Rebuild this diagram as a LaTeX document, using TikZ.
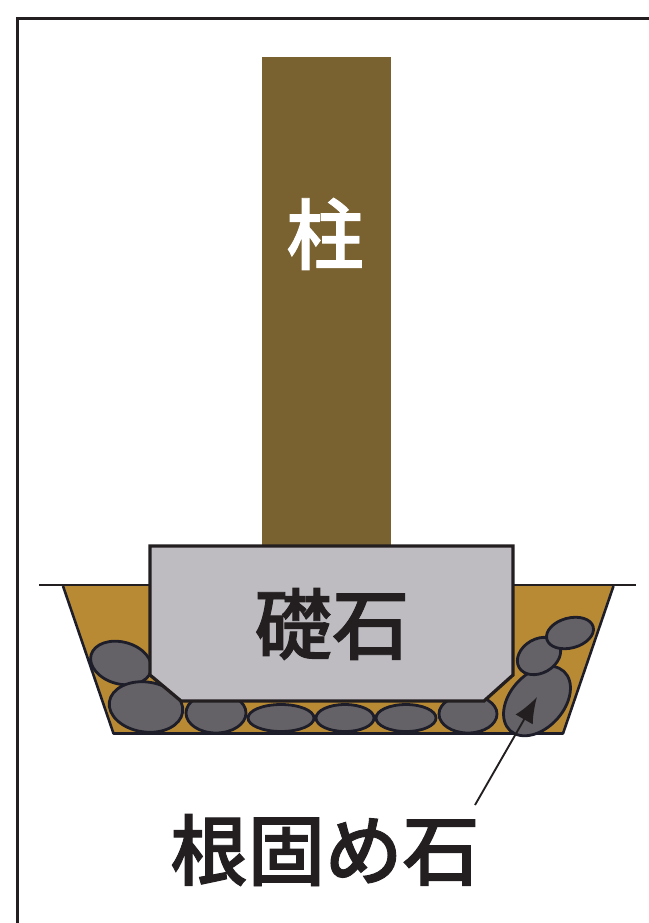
\documentclass[tikz,border=0pt]{standalone}
\usepackage{fontspec}
\usetikzlibrary{arrows.meta}
\newfontfamily\jpfont{Noto Sans CJK JP}[UprightFont=* Medium, FakeBold=1.2]

\definecolor{hashira}{RGB}{122,97,48}
\definecolor{tsuchi}{RGB}{184,138,52}
\definecolor{soseki}{RGB}{190,188,193}
\definecolor{ishi}{RGB}{100,98,103}
\definecolor{ishisen}{RGB}{30,30,42}
\definecolor{sumi}{RGB}{35,31,32}

\begin{document}
\begin{tikzpicture}[x=0.03cm, y=-0.03cm]
\tikzset{ishi/.style={draw=ishisen, fill=ishi, line width=2.4pt},
  moji/.style={font=\jpfont\fontsize{66}{66}\selectfont, text=sumi, inner sep=0pt}}
\useasboundingbox (0,0) rectangle (649,923);
\clip (0,0) rectangle (649,923);
% waku
\draw[line width=2.5pt, draw=sumi] (17.5,18.5) rectangle (700,1000);
% hashira
\fill[hashira] (262,57) rectangle (391,560);
\node[moji, text=white] (hashira) at (325,234) {柱};
% horikomi
\fill[tsuchi] (63,586) -- (113.5,733.5) -- (563,733.5) -- (613.5,586) -- cycle;
\draw[ishisen, line width=2.2pt, line join=round] (63,586) -- (113.5,733.5) -- (563,733.5) -- (613.5,586);
% ishi
\draw[ishi] (121,663) ellipse [x radius=31, y radius=21, rotate=-15];
\draw[ishi] (146,707) ellipse [x radius=37, y radius=25, rotate=-8];
\draw[ishi] (216,713) ellipse [x radius=30, y radius=20];
\draw[ishi] (281,718) ellipse [x radius=33, y radius=13.5];
\draw[ishi] (345,718) ellipse [x radius=29, y radius=13.5];
\draw[ishi] (406,718) ellipse [x radius=30, y radius=13.5];
\draw[ishi] (468,714) ellipse [x radius=29, y radius=19];
\draw[ishi] (537,701) ellipse [x radius=40, y radius=27, rotate=48];
\draw[ishi] (539,656) ellipse [x radius=23, y radius=17, rotate=30];
\draw[ishi] (570,633) ellipse [x radius=24, y radius=15, rotate=15];
% jimen
\draw[sumi, line width=1.8pt] (39,585) -- (636,585);
% soseki
\draw[draw=sumi, fill=soseki, line width=2.8pt] (150,546) -- (513,546) -- (513,675) -- (484,701) -- (181,701) -- (150,675) -- cycle;
\node[moji] (soseki) at (332,624) {礎石};
% nekatame ishi
\node[moji] (nekatame) at (325,850) {根固め石};
\coordinate (hikidashi) at (475,805);
\coordinate (yajiri) at (537,697);
\draw[sumi, line width=1.6pt, -{Latex[length=22pt, width=17pt]}] (hikidashi) -- (yajiri);
\end{tikzpicture}
\end{document}
